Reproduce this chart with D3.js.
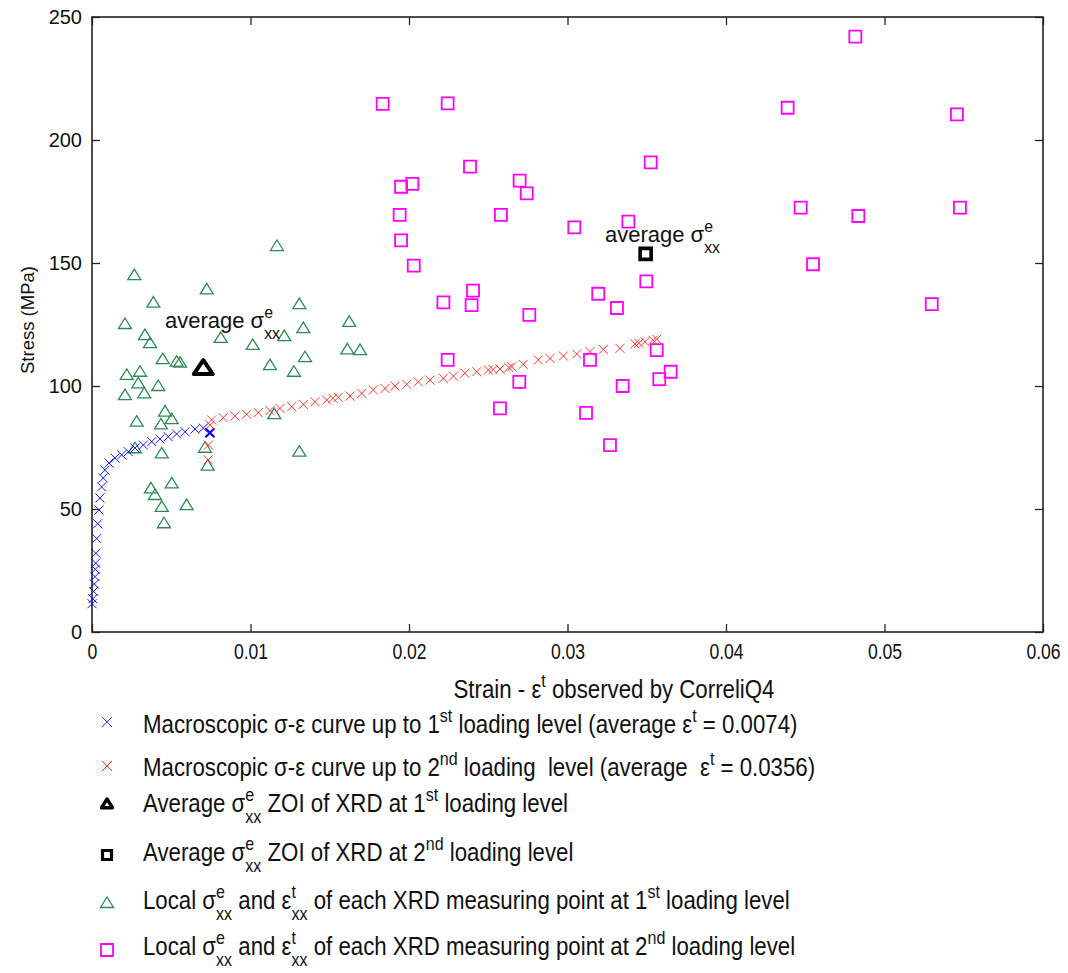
<!DOCTYPE html>
<html>
<head>
<meta charset="utf-8">
<title>Stress - strain</title>
<script src="https://d3js.org/d3.v7.min.js"></script>
<style>
  body { margin: 0; background: #fff; }
  text { font-family: "Liberation Sans", Arial, sans-serif; fill: #111; white-space: pre; }
</style>
</head>
<body>
<div id="chart"></div>
<script type="text/javascript">
  let w = 1068;
  let h = 973;

  let xTicks = [0, 0.01, 0.02, 0.03, 0.04, 0.05, 0.06];
  let xTickLabels = ['0', '0.01', '0.02', '0.03', '0.04', '0.05', '0.06'];
  let yTicks = [0, 50, 100, 150, 200, 250];
  let yTickLabels = ['0', '50', '100', '150', '200', '250'];

  // macroscopic curve, 1st loading level
  let blueStrain = [0, 0.00005, 0.0001, 0.00015, 0.00019, 0.00021, 0.00023, 0.00025, 0.0003, 0.00036,
    0.00044, 0.0005, 0.00061, 0.00071, 0.00082, 0.00107, 0.00145, 0.00187, 0.00229, 0.00271,
    0.00324, 0.00377, 0.00429, 0.00481, 0.00534, 0.00587, 0.0065, 0.00702, 0.00744];
  let blueStress = [11.5, 13.5, 16.5, 19.5, 22.5, 25.5, 28, 32, 38, 44,
    49.6, 54.5, 59, 62.6, 65.8, 68.7, 70.7, 72, 73.3, 74.8,
    76, 77.4, 78.5, 79.4, 80.5, 81.4, 82.5, 82.9, 81];

  // macroscopic curve, 2nd loading level
  let redStrain = [0.00733, 0.00735, 0.00745, 0.00755, 0.00828, 0.00902, 0.00976, 0.01049, 0.01123, 0.01186,
    0.0126, 0.01333, 0.01407, 0.01481, 0.0152, 0.01554, 0.01628, 0.01702, 0.01775, 0.01849,
    0.01912, 0.01985, 0.02059, 0.02132, 0.02216, 0.0228, 0.02353, 0.02427, 0.025, 0.0253,
    0.02574, 0.0263, 0.02648, 0.02721, 0.02816, 0.0289, 0.02974, 0.03058, 0.03142, 0.03226,
    0.03331, 0.03426, 0.0345, 0.03489, 0.0354, 0.03563];
  let redStress = [70, 76, 84.1, 86.2, 87.1, 87.8, 88.5, 89.2, 90, 90.9,
    91.6, 92.5, 93.6, 94.3, 95, 95.4, 95.9, 97, 98.4, 99,
    100, 100.7, 101.7, 102.4, 103.1, 104, 105.2, 105.8, 106.5, 106.7,
    106.9, 107.5, 107.8, 108.8, 110.6, 111.2, 112.2, 113, 114, 114.9,
    115.3, 117.1, 117.4, 118, 118.6, 119];

  // local XRD points, 1st loading level
  let greenStrain = [0.00267, 0.00724, 0.00387, 0.01308, 0.00208, 0.01623, 0.01333, 0.00334, 0.00366, 0.00812,
    0.01213, 0.01014, 0.00446, 0.00534, 0.00555, 0.01123, 0.01344, 0.01611, 0.01691, 0.01274,
    0.00219, 0.00303, 0.00292, 0.00418, 0.00208, 0.0033, 0.00461, 0.00503, 0.00282, 0.00435,
    0.0115, 0.00271, 0.0044, 0.00713, 0.0073, 0.01308, 0.00503, 0.00372, 0.00397, 0.0044,
    0.00597, 0.00454, 0.01167];
  let greenStress = [145.1, 139.3, 133.9, 133.3, 125.2, 126.1, 123.5, 120.7, 117.4, 119.6,
    120.3, 116.7, 110.9, 109.9, 109.5, 108.5, 111.7, 114.9, 114.6, 105.8,
    104.5, 105.8, 101.1, 100, 96.3, 97, 89.6, 86.5, 85.5, 84.4,
    88.6, 74.7, 72.6, 74.9, 67.6, 73.3, 60.4, 58.4, 55.7, 50.9,
    51.6, 44.2, 156.9];

  // local XRD points, 2nd loading level
  let magentaStrain = [0.01834, 0.02244, 0.02385, 0.03525, 0.0195, 0.02021, 0.02698, 0.02743, 0.01941, 0.0258,
    0.03043, 0.03384, 0.0195, 0.0203, 0.03497, 0.02404, 0.03194, 0.02217, 0.02395, 0.03312,
    0.02759, 0.02244, 0.03142, 0.03563, 0.03651, 0.03579, 0.02696, 0.03348, 0.02574, 0.03117,
    0.03268, 0.04816, 0.04389, 0.05457, 0.04471, 0.04835, 0.05476, 0.04549, 0.05298];
  let magentaStress = [214.7, 214.9, 189.2, 190.9, 181, 182.2, 183.5, 178.3, 169.6, 169.6,
    164.5, 166.8, 159.2, 148.9, 142.5, 138.8, 137.5, 134, 132.9, 131.7,
    128.9, 110.6, 110.6, 114.6, 105.8, 102.8, 101.7, 100, 90.9, 89.1,
    76, 242, 213.1, 210.4, 172.5, 169.1, 172.5, 149.5, 133.3];

  let avg1 = [0.00702, 107.3];
  let avg2 = [0.03493, 153.7];

  let annotation = [{t: 'average σ'}, {sup: 'e', sub: 'xx'}];
  let xTitle = [{t: 'Strain - ε'}, {sup: 't'}, {t: ' observed by CorreliQ4'}];
  let legendLabels = [
    [{t: 'Macroscopic σ-ε curve up to 1'}, {sup: 'st'}, {t: ' loading level (average ε'}, {sup: 't'}, {t: ' = 0.0074)'}],
    [{t: 'Macroscopic σ-ε curve up to 2'}, {sup: 'nd'}, {t: ' loading  level (average  ε'}, {sup: 't'}, {t: ' = 0.0356)'}],
    [{t: 'Average σ'}, {sup: 'e', sub: 'xx'}, {t: ' ZOI of XRD at 1'}, {sup: 'st'}, {t: ' loading level'}],
    [{t: 'Average σ'}, {sup: 'e', sub: 'xx'}, {t: ' ZOI of XRD at 2'}, {sup: 'nd'}, {t: ' loading level'}],
    [{t: 'Local σ'}, {sup: 'e', sub: 'xx'}, {t: ' and ε'}, {sup: 't', sub: 'xx'}, {t: ' of each XRD measuring point at 1'}, {sup: 'st'}, {t: ' loading level'}],
    [{t: 'Local σ'}, {sup: 'e', sub: 'xx'}, {t: ' and ε'}, {sup: 't', sub: 'xx'}, {t: ' of each XRD measuring point at 2'}, {sup: 'nd'}, {t: ' loading level'}]
  ];

  let xScale = d3.scaleLinear().domain([0, 0.06]).range([92, 1043]);
  let yScale = d3.scaleLinear().domain([0, 250]).range([632, 17]);

  let svg = d3.select('#chart')
              .append('svg')
              .attr('width', w)
              .attr('height', h);

  // marker shapes
  const xPath = r => `M${-r},${-r}L${r},${r}M${-r},${r}L${r},${-r}`;
  const triPath = (a, b) => `M0,${-b}L${a},${b * 0.75}L${-a},${b * 0.75}Z`;
  const sqPath = r => `M${-r},${-r}h${2 * r}v${2 * r}h${-2 * r}Z`;

  // text with super/subscripts, optionally squeezed horizontally
  function rich(parent, x, y, parts, size, sx, anchor, subOff) {
    let g = parent.append('g');
    let inner = g.append('g').attr('transform', `scale(${sx},1)`);
    let cx = 0, small = size * 0.72;
    subOff = subOff || 0.5;
    parts.forEach(p => {
      if (p.t !== undefined) {
        let t = inner.append('text').attr('x', cx).attr('y', 0)
          .attr('xml:space', 'preserve').style('font-size', size + 'px').text(p.t);
        cx += t.node().getComputedTextLength();
      } else {
        let wm = 0;
        if (p.sup) {
          let t = inner.append('text').attr('x', cx).attr('y', -size * 0.45)
            .style('font-size', small + 'px').text(p.sup);
          wm = Math.max(wm, t.node().getComputedTextLength());
        }
        if (p.sub) {
          let t = inner.append('text').attr('x', cx).attr('y', size * subOff)
            .style('font-size', small + 'px').text(p.sub);
          wm = Math.max(wm, t.node().getComputedTextLength());
        }
        cx += wm;
      }
    });
    let width = cx * sx;
    let x0 = anchor === 'middle' ? x - width / 2 : x;
    g.attr('transform', `translate(${x0},${y})`);
    return width;
  }

  // axes, ticks inward on all four sides
  let gx = svg.append('g').attr('transform', 'translate(0,632)')
    .call(d3.axisBottom(xScale).tickValues(xTicks).tickSize(-8).tickPadding(11)
      .tickFormat((d, i) => xTickLabels[i]));
  gx.selectAll('text').style('font-size', '22px').attr('transform', 'scale(0.8,1)');

  let gy = svg.append('g').attr('transform', 'translate(92,0)')
    .call(d3.axisLeft(yScale).tickValues(yTicks).tickSize(-8).tickPadding(10)
      .tickFormat((d, i) => yTickLabels[i]));
  gy.selectAll('text').style('font-size', '20px');

  svg.append('g').attr('transform', 'translate(0,17)')
    .call(d3.axisTop(xScale).tickValues(xTicks).tickSize(-8).tickFormat(''));
  svg.append('g').attr('transform', 'translate(1043,0)')
    .call(d3.axisRight(yScale).tickValues(yTicks).tickSize(-8).tickFormat(''));

  svg.selectAll('.domain').remove();
  svg.selectAll('.tick line').attr('stroke', '#222').attr('stroke-width', 1.3);
  svg.selectAll('.tick text').style('font-family', '"Liberation Sans", Arial, sans-serif').attr('fill', '#111');

  svg.append('rect')
     .attr('x', 92).attr('y', 17)
     .attr('width', 1043 - 92).attr('height', 632 - 17)
     .attr('fill', 'none').attr('stroke', '#222').attr('stroke-width', 1.6);

  // axis titles
  svg.append('text')
     .attr('transform', 'translate(34,320) rotate(-90)')
     .attr('text-anchor', 'middle')
     .style('font-size', '18.5px')
     .text('Stress (MPa)');
  rich(svg, 614, 698, xTitle, 25, 0.89, 'middle');

  // points
  let marks = svg.append('g');
  marks.selectAll('path.green')
     .data(d3.zip(greenStrain, greenStress))
     .join('path')
     .attr('class', 'green')
     .attr('d', triPath(6.5, 6))
     .attr('transform', ([x, y]) => `translate(${xScale(x)},${yScale(y)})`)
     .attr('fill', 'none').attr('stroke', '#2e8b57').attr('stroke-width', 1.3);

  marks.selectAll('path.magenta')
     .data(d3.zip(magentaStrain, magentaStress))
     .join('path')
     .attr('class', 'magenta')
     .attr('d', sqPath(6))
     .attr('transform', ([x, y]) => `translate(${xScale(x)},${yScale(y)})`)
     .attr('fill', 'none').attr('stroke', '#ff00ff').attr('stroke-width', 1.8);

  marks.selectAll('path.blue')
     .data(d3.zip(blueStrain, blueStress))
     .join('path')
     .attr('class', 'blue')
     .attr('d', xPath(4.5))
     .attr('transform', ([x, y]) => `translate(${xScale(x)},${yScale(y)})`)
     .attr('fill', 'none').attr('stroke', '#0000ff')
     .attr('stroke-width', (d, i) => i === blueStrain.length - 1 ? 2.2 : 0.9);

  marks.selectAll('path.red')
     .data(d3.zip(redStrain, redStress))
     .join('path')
     .attr('class', 'red')
     .attr('d', xPath(4.5))
     .attr('transform', ([x, y]) => `translate(${xScale(x)},${yScale(y)})`)
     .attr('fill', 'none').attr('stroke', '#ff2020').attr('stroke-width', 0.9);

  // averages
  marks.append('path')
     .attr('d', triPath(9.5, 8))
     .attr('transform', `translate(${xScale(avg1[0])},${yScale(avg1[1])})`)
     .attr('fill', 'none').attr('stroke', '#000').attr('stroke-width', 4)
     .attr('stroke-linejoin', 'round');
  marks.append('path')
     .attr('d', sqPath(5.5))
     .attr('transform', `translate(${xScale(avg2[0])},${yScale(avg2[1])})`)
     .attr('fill', 'none').attr('stroke', '#000').attr('stroke-width', 3.6);

  rich(svg, 165, 328, annotation, 22, 1);
  rich(svg, 605, 242, annotation, 22, 1);

  // legend
  let legendY = [733, 776, 812, 861, 909, 955];
  let markY = [722, 766, 804, 855, 903, 950];
  let lg = svg.append('g');
  let legendMarks = [
    g => g.append('path').attr('d', xPath(5)).attr('stroke', '#4040ff').attr('stroke-width', 1).attr('fill', 'none'),
    g => g.append('path').attr('d', xPath(5)).attr('stroke', '#ff3030').attr('stroke-width', 1).attr('fill', 'none'),
    g => g.append('path').attr('d', triPath(5.5, 5)).attr('stroke', '#000').attr('stroke-width', 3.4).attr('fill', 'none').attr('stroke-linejoin', 'round'),
    g => g.append('path').attr('d', sqPath(4.5)).attr('stroke', '#000').attr('stroke-width', 3.2).attr('fill', 'none'),
    g => g.append('path').attr('d', triPath(6.5, 6)).attr('stroke', '#2e8b57').attr('stroke-width', 1.3).attr('fill', 'none'),
    g => g.append('path').attr('d', sqPath(6)).attr('stroke', '#ff00ff').attr('stroke-width', 1.8).attr('fill', 'none')
  ];
  legendLabels.forEach((parts, i) => {
    legendMarks[i](lg.append('g').attr('transform', `translate(107,${markY[i]})`));
    rich(lg, 143, legendY[i], parts, 25, 0.89, null, 0.42);
  });
</script>
</body>
</html>
